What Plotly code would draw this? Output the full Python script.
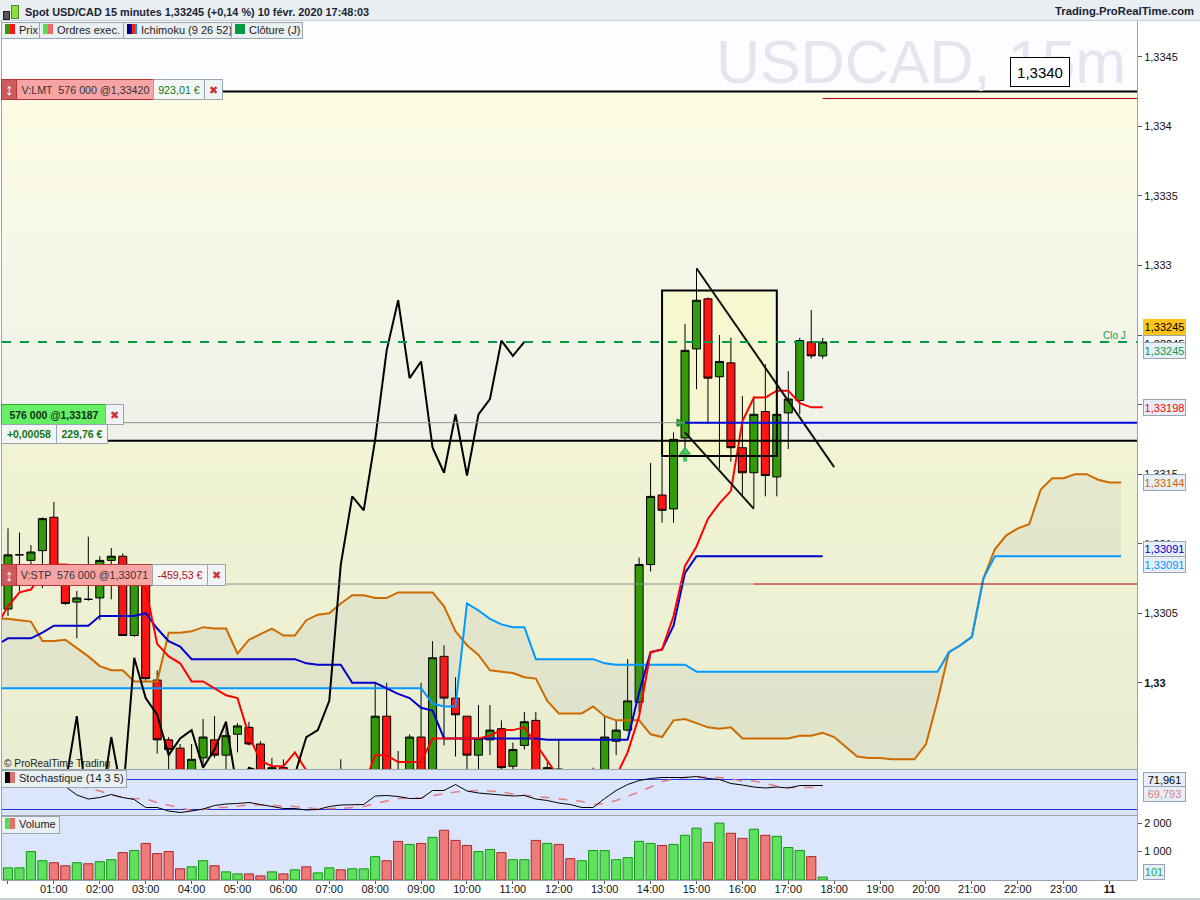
import pandas as pd
import plotly.graph_objects as go

# ---------- data ----------
open_ = [1.33053,1.33092,1.33088,1.33095,1.33119,1.33079,1.33058,1.33060,
         1.33061,1.33088,1.33091,1.33034,1.33073,1.33002,1.32959,1.32953,
         1.32930,1.32946,1.32959,1.32948,1.32963,1.32968,1.32956,1.32926,
         1.32939,1.32926,1.32920,1.32918,1.32925,1.32922,1.32930,1.32925,
         1.32927,1.32976,1.32903,1.32905,1.32961,1.32917,1.33019,1.32989,
         1.32976,1.32948,1.32959,1.32967,1.32940,1.32955,1.32973,1.32925,
         1.32938,1.32930,1.32920,1.32915,1.32934,1.32958,1.32966,1.32986,
         1.33085,1.33135,1.33125,1.33176,1.33240,1.33276,1.33220,1.33230,
         1.33169,1.33151,1.33195,1.33148,1.33194,1.33203,1.33245,1.33235]
high = [1.33111,1.33108,1.33099,1.33119,1.33130,1.33082,1.33066,1.33105,
        1.33091,1.33097,1.33093,1.33080,1.33077,1.33009,1.32961,1.32956,
        1.32956,1.32974,1.32976,1.32971,1.32971,1.32972,1.32958,1.32946,
        1.32945,1.32932,1.32930,1.32928,1.32935,1.32945,1.32936,1.32935,
        1.33000,1.33000,1.32951,1.32963,1.33000,1.33030,1.33027,1.33004,
        1.32976,1.32984,1.32984,1.32973,1.32957,1.32979,1.32979,1.32943,
        1.32959,1.32934,1.32930,1.32939,1.32976,1.32973,1.33017,1.33090,
        1.33158,1.33162,1.33180,1.33258,1.33298,1.33277,1.33250,1.33248,
        1.33206,1.33206,1.33229,1.33215,1.33224,1.33248,1.33268,1.33248]
low = [1.33048,1.33066,1.33080,1.33068,1.33075,1.33056,1.33032,1.33059,
       1.33045,1.33060,1.33034,1.33033,1.33001,1.32949,1.32935,1.32926,
       1.32922,1.32939,1.32946,1.32933,1.32950,1.32955,1.32926,1.32919,
       1.32915,1.32915,1.32910,1.32908,1.32915,1.32915,1.32918,1.32918,
       1.32920,1.32895,1.32895,1.32900,1.32910,1.32910,1.32955,1.32947,
       1.32937,1.32933,1.32948,1.32937,1.32933,1.32952,1.32915,1.32918,
       1.32925,1.32915,1.32910,1.32905,1.32925,1.32948,1.32965,1.32979,
       1.33080,1.33115,1.33115,1.33169,1.33211,1.33186,1.33154,1.33159,
       1.33134,1.33126,1.33134,1.33134,1.33168,1.33193,1.33233,1.33233]
close = [1.33092,1.33092,1.33094,1.33118,1.33077,1.33057,1.33061,1.33060,
         1.33088,1.33091,1.33034,1.33077,1.33003,1.32959,1.32952,1.32933,
         1.32945,1.32961,1.32948,1.32962,1.32969,1.32956,1.32930,1.32939,
         1.32922,1.32920,1.32918,1.32925,1.32922,1.32930,1.32925,1.32927,
         1.32976,1.32903,1.32905,1.32961,1.32917,1.33018,1.32989,1.32977,
         1.32948,1.32960,1.32966,1.32939,1.32952,1.32972,1.32922,1.32939,
         1.32936,1.32920,1.32915,1.32934,1.32961,1.32966,1.32987,1.33085,
         1.33134,1.33124,1.33175,1.33239,1.33275,1.33219,1.33231,1.33169,
         1.33151,1.33193,1.33149,1.33193,1.33204,1.33246,1.33235,1.33245]
# the line values start one bar before the first visible candle
tenkan = [1.33041,
          1.33055,1.33065,1.33067,1.33079,1.33085,1.33085,1.33084,1.33077,
          1.33077,1.33077,1.33077,1.33073,1.33068,1.33028,1.33019,1.33014,
          1.33001,1.33001,1.32996,1.32991,1.32989,1.32962,1.32944,1.32940,
          1.32940,1.32950,1.32937,1.32925,1.32925,1.32925,1.32925,1.32926,
          1.32948,1.32948,1.32943,1.32943,1.32943,1.32960,1.32960,1.32960,
          1.32960,1.32960,1.32962,1.32966,1.32966,1.32968,1.32956,1.32944,
          1.32932,1.32925,1.32920,1.32920,1.32920,1.32933,1.32950,1.32976,
          1.33022,1.33024,1.33048,1.33084,1.33098,1.33118,1.33129,1.33138,
          1.33188,1.33205,1.33205,1.33210,1.33210,1.33201,1.33198,1.33198]
kijun = [1.33027,
         1.33032,1.33032,1.33032,1.33036,1.33041,1.33041,1.33041,1.33041,
         1.33048,1.33048,1.33048,1.33048,1.33050,1.33039,1.33030,1.33026,
         1.33017,1.33017,1.33017,1.33017,1.33017,1.33017,1.33017,1.33017,
         1.33017,1.33017,1.33014,1.33013,1.33013,1.33013,1.33000,1.33000,
         1.33000,1.32996,1.32992,1.32989,1.32982,1.32980,1.32960,1.32960,
         1.32960,1.32960,1.32960,1.32960,1.32960,1.32960,1.32960,1.32959,
         1.32959,1.32959,1.32959,1.32959,1.32959,1.32959,1.32959,1.32993,
         1.33022,1.33024,1.33041,1.33079,1.33091,1.33091,1.33091,1.33091,
         1.33091,1.33091,1.33091,1.33091,1.33091,1.33091,1.33091,1.33091]
senkou_a = [1.33046,
            1.33046,1.33045,1.33044,1.33030,1.33030,1.33031,1.33025,1.33019,
            1.33012,1.33009,1.33009,1.33001,1.33001,1.33001,1.33036,1.33036,
            1.33037,1.33040,1.33039,1.33039,1.33021,1.33031,1.33035,1.33039,
            1.33034,1.33034,1.33045,1.33049,1.33050,1.33057,1.33063,1.33063,
            1.33061,1.33061,1.33065,1.33065,1.33065,1.33065,1.33055,1.33037,
            1.33027,1.33020,1.33009,1.33008,1.33007,1.33004,1.33003,1.32987,
            1.32978,1.32978,1.32978,1.32983,1.32976,1.32973,1.32973,1.32973,
            1.32963,1.32961,1.32973,1.32974,1.32971,1.32968,1.32967,1.32968,
            1.32960,1.32960,1.32960,1.32960,1.32960,1.32962,1.32962,1.32964,
            1.32961,1.32954,1.32947,1.32946,1.32946,1.32945,1.32945,1.32945,
            1.32956,1.32987,1.33022,1.33027,1.33033,1.33075,1.33096,1.33106,
            1.33111,1.33114,1.33139,1.33147,1.33147,1.33150,1.33150,1.33146,
            1.33144,1.33144]
senkou_b = [1.32996,
            1.32996,1.32996,1.32996,1.32996,1.32996,1.32996,1.32996,1.32996,
            1.32996,1.32996,1.32996,1.32996,1.32996,1.32996,1.32996,1.32996,
            1.32996,1.32996,1.32996,1.32996,1.32996,1.32996,1.32996,1.32996,
            1.32996,1.32996,1.32996,1.32996,1.32996,1.32996,1.32996,1.32996,
            1.32996,1.32996,1.32996,1.32996,1.32996,1.32985,1.32983,1.32983,
            1.33057,1.33052,1.33046,1.33042,1.33040,1.33040,1.33017,1.33017,
            1.33017,1.33017,1.33017,1.33017,1.33014,1.33013,1.33013,1.33013,
            1.33013,1.33013,1.33013,1.33013,1.33008,1.33008,1.33008,1.33008,
            1.33008,1.33008,1.33008,1.33008,1.33008,1.33008,1.33008,1.33008,
            1.33008,1.33008,1.33008,1.33008,1.33008,1.33008,1.33008,1.33008,
            1.33008,1.33008,1.33022,1.33027,1.33033,1.33075,1.33091,1.33091,
            1.33091,1.33091,1.33091,1.33091,1.33091,1.33091,1.33091,1.33091,
            1.33091,1.33091]
stoch_k = [92,92,89,86,79,66,49,41,44,50,44,40,24,24,17,14,17,21,28,31,32,34,30,26,
           22,22,19,20,26,29,30,30,47,48,46,42,42,58,58,70,57,53,51,49,47,48,41,38,
           33,30,24,24,42,58,70,78,82,84,84,84,86,82,80,72,69,65,63,65,63,68,68,68]
stoch_d = [85,85,85,85,85,72,68,62,57,49,44,42,41,34,29,24,18,20,24,24,26,29,29,28,
           28,26,24,21,22,22,24,26,32,37,42,43,43,48,52,55,57,58,57,55,51,48,46,44,
           41,39,36,30,32,38,46,55,65,76,81,84,85,84,84,81,77,77,72,67,64,64,64,66]
volume = [428,428,1000,678,607,500,607,571,643,714,964,1035,1285,928,1000,393,
          464,678,500,286,214,214,143,286,214,357,464,250,428,357,393,393,
          821,678,1357,1250,1285,1499,1749,1392,1214,1000,1071,964,714,714,1392,1285,
          1250,750,678,1035,1035,714,785,1357,1285,1214,1250,1571,1821,1321,2000,1642,
          1464,1785,1571,1535,1142,1035,821,101]
volume_side = list("GGGGRRGRGGRGRRRR" "GGRGGRRGRGRGGRGG" "GRRGRGRRRGGRGGRG" "RRGGGGGGGRGGGRGR" "RGRGGGRG")
price_ticks = [1.33, 1.3305, 1.331, 1.3315, 1.332, 1.3325, 1.333, 1.3335, 1.334, 1.3345]
price_tick_text = ["<b>1,33</b>", "1,3305", "1,331", "1,3315", "1,332", "1,3325", "1,333", "1,3335", "1,334", "1,3345"]
hour_labels = ["", "01:00", "02:00", "03:00", "04:00", "05:00", "06:00", "07:00", "08:00", "09:00", "10:00", "11:00",
               "12:00", "13:00", "14:00", "15:00", "16:00", "17:00", "18:00", "19:00", "20:00", "21:00", "22:00", "23:00", "<b>11</b>"]
limit_price = 1.3342
stop_price = 1.33071
entry_price = 1.33187
daily_close = 1.33245
drawn_high = 1.33425
drawn_mid = 1.33174
box_top, box_bottom = 1.33282, 1.33163
upper_line = [1.33298, 1.33155]
lower_line = [1.33180, 1.33125]
arrow_stem = [1.33159, 1.33164]
arrow_head = 1.33166

times = pd.date_range("2020-02-10 00:00", periods=98, freq="15min")
hours = pd.date_range("2020-02-10 00:00", periods=25, freq="60min")
ts = [t.strftime("%Y-%m-%d %H:%M") for t in times]
line_ts = ["2020-02-09 23:45"] + ts
FONT = "Liberation Sans"

# pixel helpers for page furniture only
def px(x): return x / 1200
def py(y): return 1 - y / 900

shapes, notes = [], []

def page_rect(x0, y0, x1, y1, color):
    shapes.append(dict(type="rect", xref="paper", yref="paper", x0=px(x0), x1=px(x1), y0=py(y0), y1=py(y1),
                       fillcolor=color, line_width=0, layer="below"))

def page_line(x0, y0, x1, y1, color="#98a4b0", w=1):
    shapes.append(dict(type="line", xref="paper", yref="paper", x0=px(x0), x1=px(x1), y0=py(y0), y1=py(y1),
                       line=dict(color=color, width=w), layer="above"))

def box(x0, y0, x1, y1, text, bg, fc="#222222", size=11, bold=False, border="#98a4b0", align="center", bw=1):
    notes.append(dict(xref="paper", yref="paper", x=px(x0), y=py(y0), xanchor="left", yanchor="top",
                      width=x1 - x0, height=y1 - y0, text=("<b>%s</b>" % text) if bold else text,
                      bgcolor=bg, bordercolor=border, borderwidth=bw, borderpad=0, showarrow=False,
                      align=align, valign="middle", font=dict(family=FONT, size=size, color=fc)))

def label(x, y, text, color="#222222", size=11, anchor="left", bold=False):
    notes.append(dict(xref="paper", yref="paper", x=px(x), y=py(y), xanchor=anchor, yanchor="middle",
                      text=("<b>%s</b>" % text) if bold else text, showarrow=False, borderpad=0,
                      font=dict(family=FONT, size=size, color=color)))

# backgrounds
page_rect(0, 0, 1200, 20, "#e9eef3")
page_rect(2, 20, 1137, 91, "#fdfdff")
N = 35
top_c, bot_c = (252, 252, 228), (239, 241, 233)
for k in range(N):
    f = k / (N - 1)
    c = tuple(round(a + (b - a) * f) for a, b in zip(top_c, bot_c))
    page_rect(2, 91 + 350 * k / N, 1137, 91 + 350 * (k + 1) / N + 0.5, "rgb(%d,%d,%d)" % c)
top_c, bot_c = (241, 243, 212), (233, 237, 209)
for k in range(N):
    f = k / (N - 1)
    c = tuple(round(a + (b - a) * f) for a, b in zip(top_c, bot_c))
    page_rect(2, 441 + 328 * k / N, 1137, 441 + 328 * (k + 1) / N + 0.5, "rgb(%d,%d,%d)" % c)
page_rect(2, 770, 1137, 880, "#dbe5fb")

# drawings in data coordinates
def dline(x0, y0, x1, y1, color, w=2, dash="solid", layer="above", yref="y", xref="x"):
    shapes.append(dict(type="line", xref=xref, yref=yref, x0=x0, x1=x1, y0=y0, y1=y1,
                       line=dict(color=color, width=w, dash=dash), layer=layer))

right_end = "2020-02-11 00:35:50"
left_end = "2020-02-09 23:52:10"
shapes.append(dict(type="rect", xref="x", yref="y", x0=ts[57], x1=ts[67], y0=box_bottom, y1=box_top,
                   fillcolor="rgba(250,250,190,0.55)", line_width=0, layer="below"))
shapes.append(dict(type="rect", xref="x", yref="y", x0=ts[57], x1=ts[67], y0=box_bottom, y1=box_top,
                   fillcolor="rgba(0,0,0,0)", line=dict(color="black", width=2), layer="above"))
dline(ts[60], upper_line[0], ts[72], upper_line[1], "#111111")
dline(ts[59], lower_line[0], ts[65], lower_line[1], "#111111")
dline("2020-02-10 04:40", drawn_high, right_end, drawn_high, "black")
dline(left_end, drawn_mid, right_end, drawn_mid, "black")
dline(ts[71], limit_price, right_end, limit_price, "#aa0000", 1)
dline(ts[65], stop_price, right_end, stop_price, "#aa0000", 1)
dline(left_end, stop_price, ts[65], stop_price, "#909090", 1)
dline(left_end, entry_price, ts[59], entry_price, "#909090", 1)
dline(ts[59], entry_price, right_end, entry_price, "#0000dd", 2)
dline(left_end, daily_close, right_end, daily_close, "#009944", 2, "dash")
dline(left_end, 80, right_end, 80, "#2233dd", 1, yref="y2", xref="x2", layer="below")
dline(left_end, 20, right_end, 20, "#2233dd", 1, yref="y2", xref="x2", layer="below")

# frame lines
page_line(1.5, 20, 1.5, 880)
page_line(1137.5, 20, 1137.5, 880)
page_line(2, 769.5, 1137, 769.5)
page_line(2, 815.5, 1137, 815.5)
page_line(2, 880.5, 1137, 880.5)
page_line(0, 899, 1200, 899)
page_line(0, 20.5, 1200, 20.5, "#c8d0d8")

# ---------- traces ----------
fig = go.Figure()
fig.add_trace(go.Candlestick(x=ts[:72], open=open_, high=high, low=low, close=close, xaxis="x", yaxis="y",
                             increasing=dict(fillcolor="#339a0a", line=dict(color="#000000", width=1)),
                             decreasing=dict(fillcolor="#ff1414", line=dict(color="#000000", width=1)),
                             hoverinfo="skip", showlegend=False))
fig.add_trace(go.Scatter(x=line_ts, y=senkou_a, mode="lines", line=dict(color="#cc6a00", width=2), hoverinfo="skip"))
fig.add_trace(go.Scatter(x=line_ts, y=senkou_b, mode="lines", line=dict(color="#0099ff", width=2),
                         fill="tonexty", fillcolor="rgba(120,120,130,0.09)", hoverinfo="skip"))
fig.add_trace(go.Scatter(x=line_ts[:73], y=kijun, mode="lines", line=dict(color="#0000cc", width=2), hoverinfo="skip"))
fig.add_trace(go.Scatter(x=line_ts[:73], y=tenkan, mode="lines", line=dict(color="#ff0000", width=2), hoverinfo="skip"))
fig.add_trace(go.Scatter(x=ts[:46], y=close[26:], mode="lines", line=dict(color="#000000", width=2), hoverinfo="skip"))
fig.add_trace(go.Scatter(x=["2020-02-10 14:37"], y=[entry_price], mode="markers", hoverinfo="skip",
                         marker=dict(symbol="triangle-right-open", size=6, color="#119933", line=dict(width=2, color="#119933"))))
fig.add_trace(go.Scatter(x=[ts[59], ts[59]], y=arrow_stem, mode="lines", hoverinfo="skip",
                         line=dict(color="#3ccc66", width=4)))
fig.add_trace(go.Scatter(x=[ts[59]], y=[arrow_head], mode="markers", hoverinfo="skip",
                         marker=dict(symbol="triangle-up", size=9, color="#3ccc66", line=dict(width=1, color="#229944"))))
fig.add_trace(go.Scatter(x=ts[:72], y=stoch_d, mode="lines", xaxis="x2", yaxis="y2",
                         line=dict(color="#e08080", width=1.5, dash="dash"), hoverinfo="skip"))
fig.add_trace(go.Scatter(x=ts[:72], y=stoch_k, mode="lines", xaxis="x2", yaxis="y2",
                         line=dict(color="#000000", width=1), hoverinfo="skip"))
fig.add_trace(go.Bar(x=ts[:72], y=volume, xaxis="x3", yaxis="y3", hoverinfo="skip",
                     marker=dict(color=["#5fe05f" if s == "G" else "#ee7a7a" for s in volume_side],
                                 line=dict(width=1, color=["#119911" if s == "G" else "#aa2828" for s in volume_side]))))

# ---------- text and labels ----------
label(24, 12, "Spot USD/CAD 15 minutes 1,33245 (+0,14 %) 10 févr. 2020 17:48:03", "#1a2430", 10.9, bold=True)
label(1195, 11, "Trading.ProRealTime.com", "#1a2430", 11.3, anchor="right", bold=True)
box(3, 11, 8, 18, " ", "#555555", border="#222222")
box(11, 5, 17, 17, " ", "#88e040", border="#558822")

# legend tabs
def tab(x0, x1, y0, y1, swatches, text):
    box(x0, y0, x1, y1, " ", "#eaeff2")
    sx = x0 + 4
    for c, w in swatches:
        box(sx, y0 + 2, sx + w, y1 - 3, " ", c, border=c, bw=0)
        sx += w
    label(sx + 3, (y0 + y1) / 2, text, "#222222", 11)

tab(1, 38, 22, 37, [("#339a0a", 5), ("#ff1414", 5)], "Prix")
tab(39, 122, 22, 37, [("#55dd55", 5), ("#ee6666", 5)], "Ordres exec.")
tab(123, 230, 22, 37, [("#000066", 3), ("#0000cc", 2), ("#ff2200", 3), ("#0099ff", 2)], "Ichimoku (9 26 52)")
tab(231, 301, 22, 37, [("#009944", 10)], "Clôture (J)")
tab(1, 125, 770, 786, [("#000000", 5), ("#e07070", 5)], "Stochastique (14 3 5)")
tab(1, 58, 816, 832, [("#55dd55", 5), ("#e07070", 5)], "Volume")

# watermark
label(921, 62, "USDCAD, 15m", "#e4e6ef", 61, anchor="center")
box(1010, 57, 1068, 85, "1,3340", "#ffffff", "#000000", 15, border="#000000")
label(1127, 335, "Clo J", "#229955", 10, anchor="right")
label(3, 763, "© ProRealTime Trading", "#222222", 10.2)

# orders
box(1, 79, 15, 98, "↕", "#cc5a5a", "#ffffff", 16, True, "#bb3333")
box(16, 79, 153, 98, "V:LMT  576 000 @1,33420", "#f8a4a4", "#333333", 10.7, border="#bb3333")
box(153, 79, 203, 98, "923,01 €", "#f4f6f6", "#117711", 10.7)
box(204, 79, 221, 98, "✖", "#f0f3f5", "#cc3333", 11)

box(1, 564, 15, 584, "↕", "#cc5a5a", "#ffffff", 16, True, "#bb3333")
box(16, 564, 151, 584, "V:STP  576 000 @1,33071", "#f8a4a4", "#333333", 10.7, border="#bb3333")
box(152, 564, 206, 584, "-459,53 €", "#f4f6f6", "#aa1111", 10.7)
box(207, 564, 224, 584, "✖", "#f0f3f5", "#cc3333", 11)

box(1, 404, 105, 423, "576 000 @1,33187", "#66ee66", "#113311", 10.5, True, "#33aa33")
box(105, 404, 122, 423, "✖", "#f0f3f5", "#cc3333", 11)
box(1, 424, 55, 442, "+0,00058", "#f4f6f6", "#117711", 10.5, True)
box(56, 424, 106, 442, "229,76 €", "#f4f6f6", "#117711", 10.5, True)

# right-hand price boxes
box(1143, 335, 1184, 350, "1,33245", "#ffffff", "#000000", 11)
box(1143, 319, 1184, 333, "1,33245", "#ffc41a", "#000000", 11, border="#ffc41a")
box(1143, 342, 1184, 357, "1,33245", "#e6eef9", "#119944", 11)
box(1143, 399, 1184, 414, "1,33198", "#e6eef9", "#ff0000", 11)
box(1143, 474, 1184, 489, "1,33144", "#e6eef9", "#cc6a00", 11)
box(1143, 541, 1184, 555, "1,33091", "#e6eef9", "#0000cc", 11)
box(1143, 556, 1184, 571, "1,33091", "#e6eef9", "#0099ff", 11)
box(1143, 772, 1184, 786, "71,961", "#e6eef9", "#000000", 11)
box(1143, 786, 1184, 800, "69,793", "#e6eef9", "#e08080", 11)
box(1143, 864, 1163, 878, "101", "#e6eef9", "#22aa44", 11)

# ---------- axes ----------
SCALE = 139112
ZERO_PX = 682.8
x_dom = [px(2), px(1137)]
common_x = dict(range=[left_end, right_end], domain=x_dom, type="date", showgrid=False, zeroline=False)
fig.update_layout(
    width=1200, height=900, margin=dict(l=0, r=0, t=0, b=0), autosize=False,
    paper_bgcolor="#ffffff", plot_bgcolor="rgba(0,0,0,0)", showlegend=False, bargap=0.2, boxgap=0.3, boxgroupgap=0,
    font=dict(family=FONT, size=11, color="#222222"),
    xaxis=dict(**common_x, anchor="y", showticklabels=False, ticks="", rangeslider=dict(visible=False)),
    xaxis2=dict(**common_x, anchor="y2", showticklabels=False, ticks="", matches="x"),
    xaxis3=dict(**common_x, anchor="y3", matches="x", tickmode="array", tickvals=[h.strftime("%Y-%m-%d %H:%M") for h in hours],
                ticktext=hour_labels, ticks="outside", ticklen=3, tickcolor="#555555", tickangle=0, ticklabelstandoff=-4,
                tickfont=dict(family=FONT, size=11, color="#111111")),
    yaxis=dict(domain=[py(769), py(20)], range=[1.33 - (769 - ZERO_PX) / SCALE, 1.33 + (ZERO_PX - 20) / SCALE], side="right", anchor="x",
               tickmode="array", tickvals=price_ticks, ticktext=price_tick_text, ticks="outside", ticklen=4,
               tickcolor="#555555", showgrid=False, zeroline=False, tickfont=dict(family=FONT, size=11, color="#111111")),
    yaxis2=dict(domain=[py(815), py(770)], range=[9, 99], side="right", anchor="x2", showticklabels=False, ticks="",
                showgrid=False, zeroline=False),
    yaxis3=dict(domain=[py(880), py(816)], range=[0, 2250], side="right", anchor="x3", tickmode="array",
                tickvals=[1000, 2000], ticktext=["1 000", "2 000"], ticks="outside", ticklen=4, tickcolor="#555555",
                showgrid=False, zeroline=False, tickfont=dict(family=FONT, size=11, color="#111111")),
    shapes=shapes, annotations=notes,
)

fig.write_html("out.html", config={"displayModeBar": False},
               post_script="document.body.style.margin='0';document.body.style.background='#fff';")
